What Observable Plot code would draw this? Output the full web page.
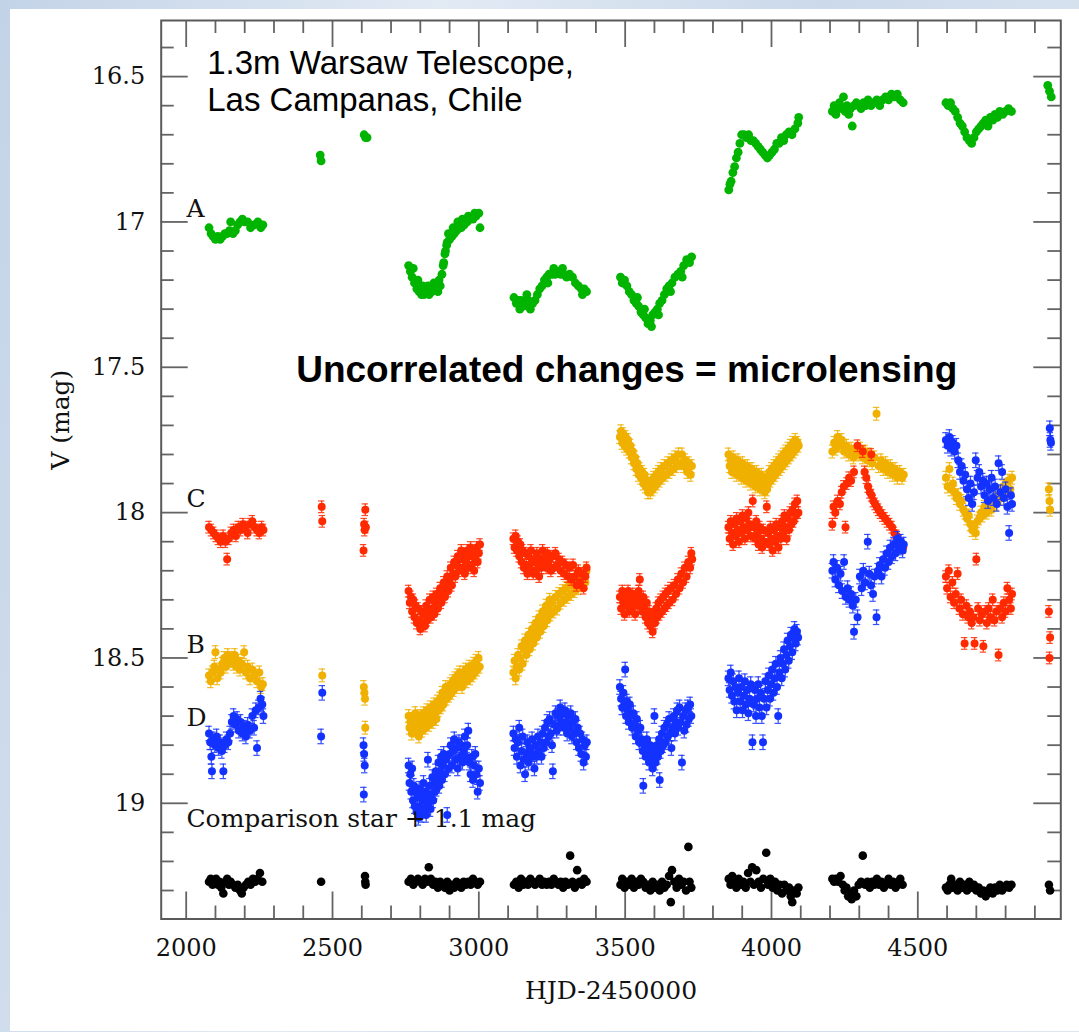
<!DOCTYPE html>
<html><head><meta charset="utf-8">
<script src="https://cdn.jsdelivr.net/npm/d3@7"></script>
<script src="https://cdn.jsdelivr.net/npm/@observablehq/plot@0.6"></script>
<style>
html,body{margin:0;padding:0;}
body{width:1079px;height:1032px;position:relative;overflow:hidden;background:linear-gradient(100deg,#c3d3e7 0%,#e2eaf4 35%,#cbd9ea 65%,#dfe7f2 100%);}
#panel{position:absolute;left:10px;top:9px;width:1069px;height:1022px;background:#fff;}
#chart{position:absolute;left:0;top:0;}
</style></head><body><div id="panel"></div><div id="chart"></div>
<script>
// Image A (green)
const imageA = [
[2078,17.02],[2085,17.04],[2092,17.05],[2100,17.06],[2108,17.05],[2116,17.06],[2124,17.05],[2132,17.04],[2140,17.04],[2148,17.03],[2152,17.0],[2160,17.04],[2168,17.03],[2176,17.01],[2184,17.0],[2192,16.99],[2200,17.0],[2210,17.0],[2220,17.02],[2232,17.01],[2245,17.0],[2255,17.02],[2262,17.01],
[2458,16.77],[2461,16.79],
[2608,16.70],[2613,16.71],[2618,16.71],
[2760,17.15],[2766,17.17],[2772,17.19],[2776,17.16],[2780,17.21],[2788,17.23],[2792,17.20],[2796,17.24],[2804,17.25],[2808,17.22],[2812,17.25],[2820,17.24],[2826,17.22],[2830,17.25],[2840,17.24],[2846,17.21],[2850,17.23],[2860,17.24],[2864,17.20],[2868,17.22],[2874,17.18],[2878,17.15],[2880,17.14],[2884,17.11],[2886,17.1],[2890,17.08],[2892,17.07],[2896,17.04],[2900,17.06],[2908,17.05],[2912,17.02],[2916,17.04],[2924,17.03],[2928,17.00],[2932,17.02],[2940,17.02],[2944,16.99],[2950,17.01],[2960,17.0],[2964,16.98],[2970,16.99],[2980,16.99],[2986,16.97],[2990,16.98],[3000,16.97],[3004,17.02],
[3120,17.26],[3128,17.28],[3136,17.27],[3140,17.30],[3144,17.27],[3152,17.29],[3160,17.28],[3164,17.25],[3168,17.27],[3176,17.30],[3184,17.28],[3192,17.27],[3200,17.25],[3208,17.23],[3216,17.22],[3224,17.20],[3232,17.19],[3236,17.21],[3240,17.18],[3250,17.18],[3256,17.16],[3260,17.18],[3270,17.17],[3280,17.18],[3286,17.16],[3290,17.18],[3300,17.19],[3310,17.18],[3320,17.19],[3330,17.21],[3340,17.22],[3350,17.23],[3354,17.25],[3360,17.23],[3368,17.24],
[3484,17.19],[3490,17.21],[3498,17.20],[3506,17.22],[3514,17.24],[3522,17.25],[3530,17.27],[3538,17.28],[3542,17.26],[3546,17.29],[3554,17.31],[3562,17.32],[3566,17.30],[3570,17.33],[3578,17.35],[3586,17.34],[3590,17.36],[3594,17.32],[3602,17.31],[3610,17.30],[3614,17.32],[3618,17.28],[3626,17.27],[3634,17.25],[3642,17.23],[3650,17.22],[3655,17.24],[3660,17.21],[3670,17.19],[3680,17.18],[3690,17.17],[3695,17.19],[3700,17.15],[3710,17.13],[3720,17.14],[3727,17.12],
[3854,16.89],[3858,16.87],[3862,16.86],[3868,16.83],[3874,16.81],[3880,16.78],[3886,16.76],[3892,16.73],[3898,16.70],[3906,16.70],[3914,16.71],[3922,16.70],[3930,16.72],[3938,16.72],[3946,16.73],[3954,16.74],[3962,16.75],[3970,16.76],[3978,16.77],[3986,16.78],[3994,16.77],[4002,16.76],[4010,16.75],[4018,16.73],[4026,16.73],[4034,16.71],[4042,16.72],[4050,16.70],[4060,16.69],[4070,16.70],[4080,16.68],[4090,16.66],[4093,16.64],
[4208,16.62],[4214,16.60],[4220,16.63],[4226,16.61],[4232,16.59],[4240,16.61],[4246,16.57],[4252,16.62],[4258,16.60],[4264,16.63],[4270,16.61],[4276,16.67],[4282,16.60],[4290,16.59],[4298,16.60],[4306,16.61],[4314,16.59],[4322,16.60],[4330,16.58],[4340,16.60],[4350,16.59],[4360,16.58],[4370,16.60],[4380,16.58],[4390,16.57],[4400,16.58],[4410,16.56],[4420,16.57],[4430,16.56],[4440,16.58],[4450,16.59],
[4596,16.59],[4604,16.60],[4612,16.59],[4620,16.61],[4628,16.62],[4636,16.64],[4644,16.66],[4652,16.67],[4660,16.69],[4668,16.71],[4676,16.72],[4684,16.73],[4692,16.71],[4700,16.69],[4708,16.68],[4716,16.67],[4724,16.66],[4732,16.65],[4740,16.67],[4748,16.64],[4756,16.65],[4764,16.63],[4772,16.64],[4780,16.62],[4790,16.63],[4800,16.62],[4810,16.61],[4820,16.62],
[4944,16.53],[4950,16.55],[4956,16.57]
];
// Image B (orange)
const imageB = [
[2078,18.56],[2084,18.58],[2090,18.55],[2096,18.53],[2100,18.48],[2106,18.57],[2112,18.54],[2118,18.55],[2124,18.52],[2130,18.50],[2136,18.53],[2142,18.49],[2148,18.51],[2154,18.50],[2160,18.52],[2166,18.49],[2172,18.53],[2178,18.51],[2184,18.54],[2190,18.52],[2198,18.48],[2204,18.55],[2210,18.53],[2218,18.57],[2226,18.54],[2234,18.56],[2242,18.58],[2250,18.55],[2256,18.60],[2262,18.59],
[2465,18.56],
[2607,18.60],[2609,18.62],[2611,18.64],[2612,18.74],
[2760,18.70],[2763,18.74],[2767,18.72],[2771,18.76],[2775,18.71],[2779,18.74],[2783,18.69],[2787,18.75],[2791,18.72],[2795,18.77],[2799,18.70],[2803,18.73],[2807,18.75],[2811,18.69],[2815,18.72],[2819,18.74],[2823,18.68],[2827,18.71],[2831,18.73],[2835,18.67],[2839,18.70],[2843,18.72],[2847,18.66],[2851,18.69],[2855,18.71],[2859,18.65],[2863,18.68],[2867,18.64],[2871,18.67],[2875,18.62],[2879,18.66],[2883,18.63],[2887,18.60],[2891,18.64],[2895,18.61],[2899,18.63],[2903,18.59],[2907,18.62],[2911,18.58],[2915,18.61],[2919,18.57],[2923,18.60],[2927,18.56],[2931,18.59],[2935,18.55],[2939,18.58],[2943,18.60],[2947,18.55],[2951,18.57],[2955,18.54],[2959,18.58],[2963,18.55],[2967,18.53],[2971,18.57],[2975,18.54],[2979,18.56],[2983,18.52],[2987,18.55],[2991,18.51],[2995,18.54],[2999,18.50],[3003,18.53],
[3118,18.55],[3122,18.51],[3126,18.57],[3130,18.53],[3134,18.49],[3138,18.54],[3142,18.50],[3146,18.46],[3150,18.52],[3154,18.47],[3158,18.44],[3162,18.49],[3166,18.45],[3170,18.42],[3174,18.47],[3178,18.43],[3182,18.40],[3186,18.45],[3190,18.41],[3194,18.38],[3198,18.43],[3202,18.39],[3206,18.36],[3210,18.41],[3214,18.37],[3218,18.34],[3222,18.39],[3226,18.35],[3230,18.32],[3234,18.37],[3238,18.33],[3242,18.30],[3246,18.35],[3250,18.31],[3256,18.34],[3262,18.29],[3268,18.33],[3274,18.28],[3280,18.31],[3286,18.27],[3292,18.30],[3298,18.26],[3304,18.29],[3310,18.25],[3316,18.28],[3322,18.24],[3328,18.27],[3334,18.23],[3340,18.26],[3346,18.22],[3352,18.25],[3358,18.21],[3364,18.24],[3368,18.20],
[3482,17.74],[3486,17.72],[3490,17.76],[3494,17.73],[3498,17.77],[3502,17.74],[3506,17.78],[3510,17.75],[3514,17.79],[3518,17.77],[3522,17.81],[3526,17.79],[3530,17.83],[3534,17.81],[3538,17.85],[3542,17.83],[3546,17.87],[3550,17.85],[3554,17.88],[3558,17.86],[3562,17.90],[3566,17.87],[3570,17.91],[3574,17.89],[3578,17.93],[3582,17.90],[3586,17.93],[3590,17.89],[3594,17.92],[3598,17.88],[3602,17.91],[3606,17.87],[3610,17.90],[3614,17.86],[3618,17.89],[3622,17.85],[3628,17.88],[3634,17.84],[3640,17.87],[3646,17.83],[3652,17.86],[3658,17.82],[3664,17.85],[3670,17.81],[3676,17.84],[3682,17.80],[3688,17.83],[3694,17.80],[3700,17.84],[3706,17.82],[3712,17.86],[3718,17.83],[3724,17.87],[3728,17.84],
[3853,17.80],[3857,17.84],[3861,17.82],[3865,17.86],[3869,17.81],[3873,17.85],[3877,17.83],[3881,17.87],[3885,17.82],[3889,17.86],[3893,17.84],[3897,17.88],[3901,17.83],[3905,17.87],[3909,17.85],[3913,17.89],[3917,17.84],[3921,17.88],[3925,17.86],[3929,17.90],[3933,17.85],[3937,17.89],[3941,17.87],[3945,17.91],[3949,17.86],[3953,17.90],[3957,17.88],[3961,17.92],[3965,17.87],[3969,17.91],[3973,17.89],[3977,17.93],[3981,17.88],[3985,17.92],[3989,17.90],[3993,17.86],[3997,17.89],[4001,17.85],[4005,17.88],[4009,17.84],[4013,17.87],[4017,17.83],[4021,17.86],[4025,17.82],[4029,17.85],[4033,17.81],[4037,17.84],[4041,17.80],[4045,17.83],[4049,17.79],[4053,17.82],[4057,17.78],[4061,17.81],[4065,17.77],[4069,17.80],[4073,17.76],[4077,17.79],[4081,17.75],[4085,17.78],[4089,17.76],[4093,17.77],
[4208,17.79],[4214,17.76],[4220,17.78],[4226,17.74],[4232,17.77],[4240,17.75],[4248,17.79],[4256,17.77],[4264,17.80],[4272,17.78],[4280,17.81],[4288,17.79],[4296,17.80],[4304,17.78],[4312,17.81],[4320,17.79],[4328,17.82],[4336,17.80],[4344,17.83],[4352,17.81],[4359,17.66],[4366,17.84],[4374,17.82],[4382,17.85],[4390,17.83],[4398,17.86],[4406,17.84],[4414,17.87],[4422,17.85],[4430,17.88],[4438,17.86],[4446,17.88],[4452,17.87],
[4596,17.88],[4602,17.91],[4608,17.85],[4614,17.92],[4620,17.90],[4626,17.93],[4632,17.95],[4638,17.94],[4644,17.97],[4650,17.96],[4656,17.99],[4662,18.00],[4668,18.02],[4674,18.01],[4680,18.04],[4686,18.06],[4692,18.05],[4698,18.07],[4704,18.03],[4710,18.02],[4716,18.00],[4722,18.01],[4728,17.98],[4736,18.00],[4744,17.97],[4752,17.99],[4760,17.95],[4768,17.97],[4776,17.94],[4784,17.95],[4792,17.91],[4800,17.93],[4808,17.89],[4816,17.92],[4822,17.88],
[4948,17.92],[4950,17.96],[4952,17.99]
];
// Image C (red)
const imageC = [
[2078,18.05],[2086,18.06],[2094,18.07],[2102,18.08],[2110,18.09],[2118,18.10],[2126,18.08],[2134,18.10],[2140,18.16],[2146,18.09],[2154,18.07],[2162,18.06],[2170,18.08],[2178,18.05],[2186,18.06],[2194,18.04],[2202,18.05],[2210,18.07],[2218,18.04],[2226,18.03],[2234,18.05],[2242,18.06],[2250,18.07],[2258,18.05],[2264,18.06],
[2463,17.98],[2465,18.03],
[2612,17.99],[2608,18.04],[2614,18.05],[2610,18.06],[2606,18.13],
[2760,18.27],[2764,18.31],[2768,18.29],[2772,18.34],[2776,18.30],[2780,18.36],[2784,18.32],[2788,18.38],[2792,18.33],[2796,18.37],[2800,18.40],[2804,18.34],[2808,18.38],[2812,18.35],[2816,18.39],[2820,18.32],[2824,18.37],[2828,18.34],[2832,18.30],[2836,18.36],[2840,18.33],[2844,18.29],[2848,18.35],[2852,18.31],[2856,18.28],[2860,18.33],[2864,18.29],[2868,18.26],[2872,18.31],[2876,18.27],[2880,18.24],[2884,18.29],[2888,18.25],[2892,18.22],[2896,18.27],[2900,18.23],[2904,18.19],[2908,18.25],[2912,18.21],[2916,18.17],[2920,18.22],[2924,18.18],[2928,18.15],[2932,18.20],[2936,18.16],[2940,18.13],[2944,18.19],[2948,18.15],[2952,18.21],[2956,18.17],[2960,18.13],[2964,18.19],[2968,18.15],[2972,18.12],[2976,18.18],[2980,18.14],[2984,18.20],[2988,18.16],[2992,18.12],[2996,18.17],[3000,18.14],[3004,18.11],
[3118,18.09],[3122,18.12],[3126,18.08],[3130,18.13],[3134,18.10],[3138,18.15],[3142,18.11],[3146,18.17],[3150,18.13],[3154,18.19],[3158,18.14],[3162,18.18],[3166,18.21],[3170,18.15],[3174,18.19],[3178,18.13],[3182,18.17],[3186,18.21],[3190,18.16],[3194,18.20],[3198,18.14],[3202,18.18],[3206,18.22],[3210,18.16],[3214,18.19],[3218,18.13],[3222,18.17],[3226,18.15],[3230,18.19],[3234,18.14],[3238,18.18],[3242,18.16],[3246,18.20],[3250,18.15],[3256,18.19],[3262,18.14],[3268,18.18],[3274,18.16],[3280,18.20],[3286,18.17],[3292,18.21],[3298,18.18],[3304,18.22],[3310,18.19],[3316,18.23],[3322,18.18],[3328,18.22],[3334,18.25],[3340,18.20],[3346,18.24],[3352,18.21],[3358,18.26],[3364,18.22],[3368,18.19],
[3482,18.29],[3486,18.33],[3490,18.27],[3494,18.31],[3498,18.35],[3502,18.29],[3506,18.32],[3510,18.27],[3514,18.34],[3518,18.30],[3522,18.33],[3526,18.28],[3530,18.31],[3534,18.35],[3538,18.29],[3542,18.32],[3546,18.27],[3550,18.23],[3554,18.31],[3558,18.34],[3562,18.29],[3566,18.33],[3570,18.36],[3574,18.31],[3578,18.38],[3582,18.34],[3586,18.39],[3590,18.36],[3594,18.41],[3598,18.35],[3602,18.38],[3606,18.33],[3610,18.36],[3614,18.31],[3618,18.35],[3622,18.30],[3626,18.34],[3630,18.29],[3634,18.33],[3638,18.28],[3642,18.32],[3646,18.27],[3650,18.31],[3656,18.26],[3662,18.30],[3668,18.25],[3674,18.28],[3680,18.23],[3686,18.26],[3692,18.21],[3698,18.24],[3704,18.19],[3710,18.22],[3716,18.17],[3722,18.19],[3726,18.14],[3729,18.16],
[3853,18.05],[3857,18.09],[3861,18.03],[3865,18.07],[3869,18.11],[3873,18.04],[3877,18.08],[3881,18.02],[3885,18.06],[3889,18.10],[3893,18.03],[3897,18.07],[3901,18.01],[3905,18.05],[3909,18.09],[3913,18.02],[3917,18.06],[3921,18.00],[3925,18.04],[3929,18.08],[3936,17.96],[3940,18.05],[3944,18.09],[3948,18.03],[3952,18.07],[3956,18.11],[3960,18.05],[3964,18.09],[3968,18.12],[3972,18.06],[3976,18.10],[3984,17.98],[3988,18.07],[3992,18.11],[3996,18.05],[4000,18.09],[4004,18.13],[4008,18.06],[4012,18.10],[4016,18.04],[4020,18.08],[4024,18.12],[4028,18.05],[4032,18.09],[4036,18.03],[4040,18.07],[4044,18.01],[4048,18.05],[4052,18.09],[4056,18.02],[4060,18.06],[4064,18.00],[4068,18.04],[4072,17.99],[4076,18.03],[4080,17.97],[4084,18.01],[4088,17.96],[4092,18.00],
[4208,18.04],[4212,17.98],[4218,18.0],[4226,17.96],[4234,17.97],[4240,17.93],[4247,17.91],[4253,18.05],[4258,17.90],[4265,17.88],[4272,17.89],[4282,17.86],[4294,17.77],[4312,17.79],[4341,17.80],[4318,17.86],[4324,17.88],[4330,17.91],[4336,17.93],[4342,17.94],[4348,17.96],[4354,17.97],[4360,17.98],[4366,17.99],[4372,18.00],[4380,18.01],[4388,18.02],[4396,18.03],[4404,18.04],[4412,18.05],[4420,18.07],[4428,18.08],[4436,18.10],[4444,18.11],[4450,18.12],
[4596,18.22],[4600,18.26],[4606,18.20],[4612,18.29],[4618,18.24],[4624,18.31],[4630,18.28],[4636,18.21],[4642,18.33],[4648,18.30],[4654,18.35],[4660,18.45],[4666,18.32],[4672,18.36],[4678,18.34],[4684,18.38],[4690,18.36],[4694,18.45],[4700,18.16],[4706,18.33],[4712,18.37],[4718,18.35],[4724,18.46],[4730,18.34],[4736,18.38],[4742,18.33],[4748,18.36],[4756,18.30],[4762,18.37],[4768,18.34],[4776,18.49],[4782,18.33],[4788,18.36],[4794,18.31],[4800,18.34],[4806,18.26],[4812,18.30],[4818,18.33],[4822,18.28],
[4948,18.34],[4952,18.43],[4950,18.50]
];
// Image D (blue)
const imageD = [
[2078,18.76],[2082,18.79],[2086,18.84],[2088,18.89],[2092,18.78],[2098,18.80],[2104,18.77],[2110,18.81],[2116,18.79],[2122,18.82],[2127,18.89],[2132,18.80],[2138,18.78],[2144,18.79],[2150,18.76],[2156,18.72],[2162,18.70],[2168,18.73],[2174,18.71],[2180,18.75],[2186,18.72],[2192,18.76],[2198,18.74],[2204,18.77],[2210,18.73],[2218,18.75],[2226,18.70],[2232,18.74],[2238,18.68],[2242,18.81],[2248,18.67],[2254,18.64],[2260,18.66],[2264,18.70],
[2461,18.77],[2465,18.62],
[2606,18.80],[2608,18.83],[2610,18.87],[2607,18.97],
[2760,18.87],[2763,18.93],[2766,18.90],[2769,18.96],[2772,18.88],[2775,18.99],[2778,18.94],[2781,19.01],[2784,18.96],[2787,19.03],[2790,18.98],[2793,19.05],[2796,18.95],[2799,19.01],[2802,18.97],[2805,19.04],[2808,18.99],[2811,18.93],[2814,19.02],[2817,18.96],[2820,19.04],[2823,18.98],[2826,18.85],[2829,19.00],[2832,18.94],[2835,19.02],[2838,18.97],[2841,18.91],[2844,18.99],[2847,18.93],[2850,18.96],[2853,18.89],[2856,18.95],[2859,18.91],[2862,18.86],[2865,18.94],[2868,18.89],[2871,18.84],[2874,18.92],[2877,18.87],[2880,18.83],[2884,18.90],[2888,18.85],[2892,19.04],[2896,18.88],[2900,18.83],[2904,18.80],[2908,18.87],[2912,18.82],[2916,18.78],[2920,18.85],[2924,18.81],[2928,18.88],[2932,18.79],[2936,18.84],[2940,18.80],[2944,18.86],[2948,18.82],[2952,18.77],[2956,18.84],[2960,18.80],[2964,18.75],[2968,18.86],[2972,18.90],[2976,18.84],[2980,18.92],[2984,18.87],[2988,18.83],[2992,18.90],[2996,18.96],[3000,18.88],[3004,18.93],
[3118,18.76],[3122,18.81],[3126,18.78],[3130,18.84],[3134,18.79],[3138,18.74],[3142,18.87],[3146,18.82],[3150,18.77],[3154,18.85],[3158,18.90],[3162,18.83],[3166,18.79],[3170,18.86],[3174,18.81],[3178,18.84],[3182,18.78],[3186,18.83],[3190,18.88],[3194,18.80],[3198,18.84],[3202,18.77],[3206,18.82],[3210,18.79],[3214,18.84],[3218,18.76],[3222,18.81],[3226,18.74],[3230,18.79],[3234,18.72],[3238,18.77],[3242,18.71],[3246,18.76],[3250,18.80],[3253,18.89],[3258,18.73],[3262,18.69],[3266,18.75],[3270,18.70],[3274,18.74],[3278,18.67],[3282,18.72],[3286,18.69],[3290,18.74],[3294,18.68],[3298,18.72],[3302,18.76],[3306,18.70],[3310,18.74],[3314,18.69],[3318,18.77],[3322,18.72],[3326,18.76],[3330,18.71],[3334,18.79],[3338,18.74],[3342,18.81],[3346,18.76],[3350,18.83],[3354,18.78],[3358,18.86],[3362,18.80],[3366,18.84],[3369,18.79],
[3482,18.60],[3486,18.64],[3490,18.67],[3494,18.62],[3498,18.66],[3500,18.54],[3503,18.70],[3506,18.65],[3509,18.68],[3512,18.72],[3516,18.66],[3520,18.70],[3524,18.74],[3528,18.69],[3532,18.73],[3536,18.77],[3540,18.71],[3544,18.75],[3548,18.79],[3552,18.74],[3556,18.78],[3560,18.82],[3562,18.94],[3566,18.80],[3570,18.84],[3574,18.78],[3578,18.82],[3582,18.86],[3586,18.80],[3590,18.84],[3594,18.88],[3598,18.82],[3600,18.70],[3604,18.86],[3608,18.80],[3612,18.84],[3616,18.78],[3618,18.92],[3622,18.82],[3626,18.76],[3630,18.80],[3634,18.74],[3638,18.79],[3642,18.73],[3646,18.77],[3650,18.71],[3654,18.76],[3658,18.81],[3662,18.74],[3666,18.70],[3670,18.76],[3674,18.72],[3678,18.68],[3682,18.74],[3686,18.67],[3690,18.72],[3694,18.86],[3698,18.70],[3702,18.75],[3706,18.68],[3710,18.73],[3714,18.67],[3718,18.71],[3722,18.66],[3726,18.70],
[3853,18.57],[3857,18.61],[3861,18.55],[3865,18.63],[3869,18.58],[3873,18.65],[3877,18.60],[3881,18.68],[3885,18.62],[3889,18.57],[3893,18.65],[3897,18.60],[3901,18.68],[3905,18.63],[3909,18.58],[3913,18.66],[3917,18.61],[3921,18.69],[3925,18.64],[3929,18.59],[3935,18.79],[3939,18.66],[3943,18.61],[3947,18.70],[3951,18.64],[3955,18.59],[3959,18.67],[3963,18.62],[3967,18.70],[3971,18.79],[3975,18.64],[3979,18.58],[3983,18.67],[3987,18.61],[3991,18.56],[3995,18.64],[3999,18.59],[4003,18.54],[4007,18.62],[4011,18.57],[4015,18.52],[4019,18.60],[4023,18.70],[4027,18.55],[4031,18.50],[4035,18.57],[4039,18.52],[4043,18.47],[4047,18.54],[4051,18.49],[4055,18.44],[4059,18.51],[4063,18.46],[4067,18.42],[4071,18.48],[4075,18.43],[4079,18.40],[4083,18.45],[4087,18.41],[4091,18.43],
[4208,18.20],[4212,18.17],[4218,18.23],[4224,18.19],[4230,18.25],[4236,18.21],[4242,18.27],[4248,18.17],[4254,18.29],[4260,18.26],[4266,18.30],[4272,18.28],[4278,18.32],[4282,18.41],[4288,18.30],[4294,18.36],[4302,18.22],[4308,18.26],[4314,18.20],[4320,18.24],[4329,18.10],[4334,18.21],[4340,18.25],[4347,18.28],[4352,18.22],[4359,18.36],[4364,18.20],[4370,18.18],[4376,18.22],[4382,18.16],[4388,18.19],[4394,18.14],[4400,18.17],[4406,18.12],[4412,18.15],[4418,18.11],[4424,18.14],[4430,18.09],[4436,18.12],[4442,18.10],[4448,18.13],[4452,18.11],
[4596,17.75],[4602,17.77],[4608,17.74],[4614,17.78],[4620,17.76],[4626,17.79],[4632,17.77],[4638,17.82],[4644,17.86],[4650,17.84],[4656,17.89],[4662,17.87],[4668,17.92],[4674,17.95],[4680,17.90],[4686,17.97],[4692,17.93],[4698,17.82],[4704,17.88],[4710,17.86],[4716,17.91],[4722,17.89],[4728,17.94],[4734,17.90],[4740,17.96],[4746,17.92],[4752,17.88],[4758,17.95],[4764,17.91],[4770,17.97],[4776,17.83],[4782,17.93],[4788,17.86],[4794,17.95],[4800,17.92],[4806,17.98],[4812,18.07],[4818,17.94],[4822,17.97],
[4951,17.71],[4953,17.75],[4955,17.76]
];
// Comparison star + 1.1 mag (black)
const comparison = [
[2078,19.27],[2084,19.26],[2090,19.28],[2096,19.27],[2102,19.26],[2108,19.28],[2114,19.27],[2120,19.29],[2127,19.31],[2134,19.27],[2140,19.26],[2146,19.28],[2152,19.27],[2160,19.28],[2168,19.29],[2176,19.28],[2184,19.30],[2190,19.31],[2196,19.29],[2204,19.28],[2212,19.27],[2220,19.28],[2228,19.26],[2236,19.27],[2244,19.26],[2252,19.24],[2260,19.27],
[2461,19.27],
[2611,19.25],[2612,19.27],[2613,19.28],
[2760,19.27],[2768,19.26],[2776,19.28],[2784,19.27],[2792,19.26],[2800,19.27],[2808,19.28],[2816,19.26],[2824,19.27],[2829,19.22],[2836,19.26],[2844,19.28],[2852,19.27],[2860,19.29],[2868,19.27],[2876,19.28],[2884,19.29],[2892,19.27],[2900,19.30],[2908,19.28],[2916,19.29],[2924,19.27],[2932,19.28],[2940,19.29],[2948,19.27],[2956,19.28],[2964,19.27],[2972,19.28],[2980,19.26],[2988,19.27],[2996,19.28],[3004,19.27],
[3120,19.28],[3128,19.27],[3136,19.29],[3144,19.26],[3152,19.28],[3160,19.27],[3168,19.28],[3176,19.26],[3184,19.27],[3192,19.28],[3200,19.27],[3208,19.26],[3216,19.28],[3224,19.27],[3232,19.28],[3240,19.27],[3248,19.28],[3256,19.26],[3264,19.27],[3272,19.28],[3280,19.27],[3288,19.29],[3296,19.27],[3304,19.28],[3312,19.18],[3320,19.27],[3328,19.29],[3336,19.23],[3344,19.27],[3352,19.28],[3360,19.26],[3368,19.27],
[3484,19.28],[3490,19.26],[3498,19.29],[3506,19.27],[3514,19.28],[3522,19.26],[3530,19.29],[3538,19.27],[3546,19.28],[3554,19.26],[3562,19.27],[3570,19.29],[3578,19.28],[3586,19.30],[3594,19.27],[3602,19.29],[3610,19.28],[3618,19.30],[3626,19.27],[3634,19.29],[3642,19.28],[3650,19.25],[3656,19.34],[3660,19.23],[3668,19.27],[3676,19.29],[3684,19.26],[3692,19.28],[3700,19.27],[3708,19.30],[3716,19.15],[3720,19.27],[3726,19.29],
[3854,19.26],[3860,19.28],[3866,19.25],[3872,19.27],[3880,19.29],[3888,19.26],[3896,19.28],[3904,19.27],[3912,19.29],[3920,19.24],[3928,19.27],[3934,19.22],[3940,19.28],[3948,19.23],[3956,19.27],[3964,19.29],[3972,19.26],[3982,19.17],[3988,19.28],[3996,19.26],[4004,19.29],[4012,19.27],[4020,19.30],[4028,19.28],[4036,19.31],[4044,19.28],[4052,19.30],[4060,19.29],[4066,19.32],[4071,19.34],[4078,19.30],[4086,19.31],[4092,19.29],
[4208,19.26],[4214,19.27],[4220,19.26],[4228,19.27],[4236,19.25],[4244,19.28],[4250,19.30],[4256,19.29],[4262,19.32],[4268,19.31],[4274,19.33],[4282,19.30],[4290,19.32],[4298,19.28],[4306,19.27],[4312,19.18],[4320,19.28],[4328,19.27],[4336,19.29],[4344,19.27],[4352,19.28],[4360,19.26],[4368,19.28],[4376,19.27],[4384,19.29],[4392,19.28],[4400,19.26],[4408,19.28],[4416,19.27],[4424,19.29],[4432,19.28],[4440,19.26],[4448,19.28],
[4596,19.29],[4602,19.30],[4608,19.28],[4614,19.26],[4620,19.29],[4628,19.28],[4636,19.30],[4644,19.27],[4652,19.29],[4660,19.28],[4668,19.30],[4676,19.27],[4684,19.29],[4692,19.28],[4700,19.30],[4708,19.29],[4716,19.31],[4724,19.30],[4732,19.32],[4740,19.30],[4748,19.29],[4756,19.31],[4764,19.29],[4772,19.30],[4780,19.28],[4788,19.30],[4796,19.29],[4804,19.28],[4812,19.29],[4820,19.28],
[4948,19.28],[4952,19.30]
];
// typical photometric errors (mag) and error-bar cap half-width (days)
const errB = 0.022, errC = 0.02, errD = 0.025;
const capHalf = 11;

// axis ticks
const xMajor = [2000, 2500, 3000, 3500, 4000, 4500];
const yMajor = [16.5, 17, 17.5, 18, 18.5, 19];
const xMinor = d3.range(2000, 5000, 100).filter(v => v % 500 !== 0);
const yMinor = d3.range(164, 194).map(v => v / 10).filter(v => Math.round(v * 10) % 5 !== 0);

// in-plot labels
const curveLabels = [
  {text: "A", x: 2001, y: 16.954},
  {text: "C", x: 2001, y: 17.952},
  {text: "B", x: 2001, y: 18.454},
  {text: "D", x: 2001, y: 18.705},
  {text: "Comparison star + 1.1 mag", x: 2001, y: 19.053}
];
const noteTop = "1.3m Warsaw Telescope,\nLas Campanas, Chile";
const noteMid = "Uncorrelated changes = microlensing";
const xLabel = "HJD-2450000";
const yLabel = "V (mag)";

const colA = "#00b400", colB = "#f0b000", colC = "#ff2a00", colD = "#1432ff", colK = "#000000";

const W = 1079, H = 1032;
const mL = 160.7, mR = 18.7, mT = 20, mB = 113.5;
const innerW = W - mL - mR, innerH = H - mT - mB;
const serif = "'DejaVu Serif', 'Liberation Serif', serif";
const sans = "'Liberation Sans', Arial, sans-serif";
const tickStroke = "#646464";

const X = d => d[0], Y = d => d[1];
const errMarks = (data, e, c) => [
  Plot.ruleX(data, {x: X, y1: d => d[1] - e, y2: d => d[1] + e, stroke: c, strokeWidth: 1.3, strokeOpacity: 0.85}),
  Plot.ruleY(data, {y: d => d[1] - e, x1: d => d[0] - capHalf, x2: d => d[0] + capHalf, stroke: c, strokeWidth: 1.2, strokeOpacity: 0.85}),
  Plot.ruleY(data, {y: d => d[1] + e, x1: d => d[0] - capHalf, x2: d => d[0] + capHalf, stroke: c, strokeWidth: 1.2, strokeOpacity: 0.85})
];

const chart = Plot.plot({
  width: W, height: H,
  marginLeft: mL, marginRight: mR, marginTop: mT, marginBottom: mB,
  style: {background: "transparent", fontFamily: serif, fontSize: "24px", color: "#111", overflow: "visible"},
  x: {domain: [1914.6, 4988.6]},
  y: {domain: [16.307, 19.398], reverse: true},
  marks: [
    Plot.tickX(xMajor, {x: d => d, insetBottom: innerH - 27, stroke: tickStroke, strokeWidth: 1.8}),
    Plot.tickX(xMajor, {x: d => d, insetTop: innerH - 27, stroke: tickStroke, strokeWidth: 1.8}),
    Plot.tickX(xMinor, {x: d => d, insetBottom: innerH - 13, stroke: tickStroke, strokeWidth: 1.8}),
    Plot.tickX(xMinor, {x: d => d, insetTop: innerH - 13, stroke: tickStroke, strokeWidth: 1.8}),
    Plot.tickY(yMajor, {y: d => d, insetRight: innerW - 27, stroke: tickStroke, strokeWidth: 1.8}),
    Plot.tickY(yMajor, {y: d => d, insetLeft: innerW - 27, stroke: tickStroke, strokeWidth: 1.8}),
    Plot.tickY(yMinor, {y: d => d, insetRight: innerW - 13, stroke: tickStroke, strokeWidth: 1.8}),
    Plot.tickY(yMinor, {y: d => d, insetLeft: innerW - 13, stroke: tickStroke, strokeWidth: 1.8}),
    Plot.frame({stroke: "#5a5a5a", strokeWidth: 2}),
    Plot.axisX(xMajor, {tickSize: 0, tickPadding: 19.5, tickFormat: d => String(d), label: null, fontSize: 24, fill: "#111"}),
    Plot.axisY(yMajor, {tickSize: 0, tickPadding: 16, tickFormat: d => String(d), label: null, fontSize: 24, fill: "#111"}),
    Plot.dot(imageA, {x: X, y: Y, r: 4.4, fill: colA}),
    ...errMarks(imageB, errB, colB),
    Plot.dot(imageB, {x: X, y: Y, r: 4, fill: colB}),
    ...errMarks(imageC, errC, colC),
    Plot.dot(imageC, {x: X, y: Y, r: 4, fill: colC}),
    ...errMarks(imageD, errD, colD),
    Plot.dot(imageD, {x: X, y: Y, r: 4, fill: colD}),
    Plot.dot(comparison, {x: X, y: Y, r: 4.3, fill: colK}),
    Plot.text(curveLabels, {x: "x", y: "y", text: "text", textAnchor: "start", lineAnchor: "middle", fontSize: 25, fontFamily: serif, fill: "#111"}),
    Plot.text([noteTop], {frameAnchor: "top-left", dx: 46, dy: 28, textAnchor: "start", lineAnchor: "top", lineHeight: 1.1, fontSize: 33, fontFamily: sans, fill: "#000"}),
    Plot.text([noteMid], {frameAnchor: "top-left", dx: 135, dy: 350, textAnchor: "start", lineAnchor: "middle", fontSize: 37, fontWeight: "bold", fontFamily: sans, fill: "#000"}),
    Plot.text([xLabel], {frameAnchor: "bottom", dy: 71.5, lineAnchor: "middle", fontSize: 25, fontFamily: serif, fill: "#111"}),
    Plot.text([yLabel], {frameAnchor: "left", dx: -100, rotate: -90, lineAnchor: "middle", fontSize: 25, fontFamily: serif, fill: "#111"})
  ]
});
document.getElementById("chart").append(chart);
</script></body></html>
